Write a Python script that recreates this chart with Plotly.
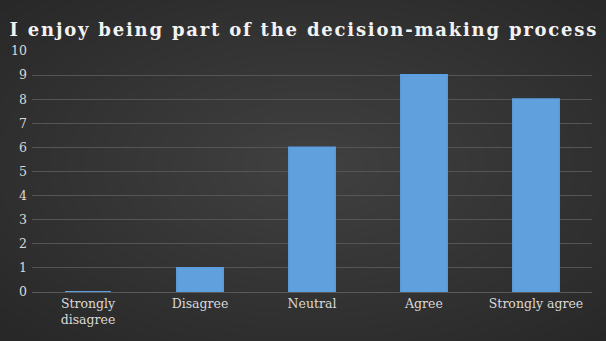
import plotly.graph_objects as go

categories = ["Strongly<br>disagree", "Disagree", "Neutral", "Agree", "Strongly agree"]
values = [0, 1, 6, 9, 8]
y_ticks = list(range(0, 11))
title_text = "I enjoy being part of the decision-making process"

# letter-spaced title (hair spaces between characters)
spaced_title = "\u200a".join(title_text)

fig = go.Figure()
fig.add_trace(go.Bar(
    x=categories, y=values,
    marker=dict(color="#60a0dc", line=dict(color="#5c9ee0", width=2)),
    width=0.41,
))

# soft radial-like background glow built from many faint ellipses
shapes = []
n = 24
for i in range(n):
    f = 1 - i / n
    rx = 0.75 * f
    ry = 0.95 * f
    shapes.append(dict(type="circle", xref="paper", yref="paper",
                       x0=0.5 - rx, x1=0.5 + rx, y0=0.52 - ry, y1=0.52 + ry,
                       fillcolor="rgba(255,255,255,0.0075)", line=dict(width=0), layer="below"))

fig.update_layout(
    width=606, height=341,
    margin=dict(l=32, r=14, t=51, b=49),
    paper_bgcolor="#282828", plot_bgcolor="rgba(0,0,0,0)",
    title=dict(text="<b>" + spaced_title + "</b>", x=0.5, xanchor="center", y=0.912, yanchor="middle",
               font=dict(family="DejaVu Serif", size=18, color="#f2f2f2")),
    font=dict(family="DejaVu Serif", size=12.5, color="#d9d9d9"),
    showlegend=False,
    shapes=shapes,
    xaxis=dict(showgrid=False, showline=True, linecolor="#5a5a5a", linewidth=1, ticks="",
               layer="below traces", tickfont=dict(size=12.5, color="#d9d9d9")),
    yaxis=dict(range=[0, 10], tickvals=y_ticks, showgrid=True, gridcolor="#555555", gridwidth=1,
               zeroline=False, showline=False, ticks="", ticklabelstandoff=4,
               layer="below traces", tickfont=dict(size=12.5, color="#d9d9d9")),
)

fig.write_html("out.html")
